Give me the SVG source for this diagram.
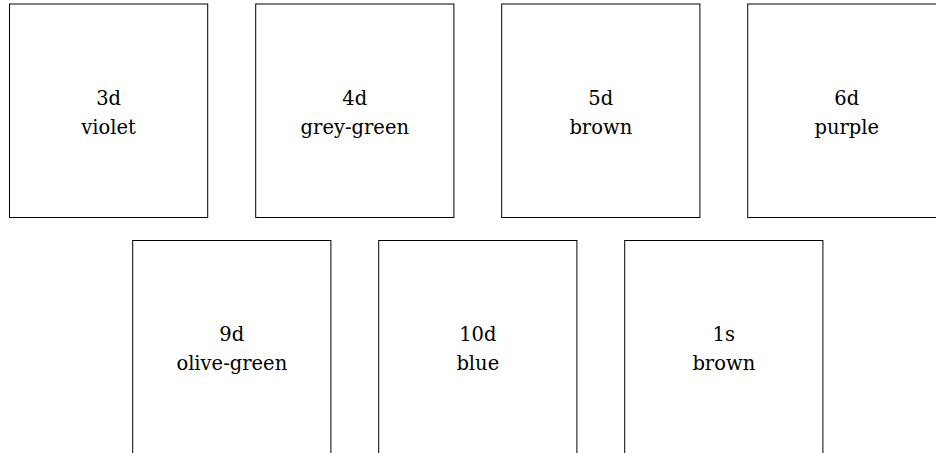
<svg xmlns="http://www.w3.org/2000/svg" width="936" height="453" viewBox="0 0 936 453">
<style>
.box{fill:#fff;stroke:#000;stroke-width:1}
text{font-size:19.5px;fill:#000;text-anchor:middle}
</style>
<rect width="936" height="453" fill="#fff"/>
<g id="n3d" font-family="DejaVu Serif"><rect class="box" x="9.5" y="4" width="198.2" height="213.5"/><text x="108.6" y="104.5">3d</text><text x="108.6" y="133.5">violet</text></g>
<g id="n4d" font-family="DejaVu Serif"><rect class="box" x="255.7" y="4" width="198.2" height="213.5"/><text x="354.8" y="104.5">4d</text><text x="354.8" y="133.5">grey-green</text></g>
<g id="n5d" font-family="DejaVu Serif"><rect class="box" x="501.7" y="4" width="198.2" height="213.5"/><text x="600.8" y="104.5">5d</text><text x="600.8" y="133.5">brown</text></g>
<g id="n6d" font-family="DejaVu Serif"><rect class="box" x="747.7" y="4" width="198.2" height="213.5"/><text x="846.8" y="104.5">6d</text><text x="846.8" y="133.5">purple</text></g>
<g id="n9d" font-family="DejaVu Serif"><rect class="box" x="132.7" y="240.5" width="198.2" height="213.5"/><text x="231.8" y="341">9d</text><text x="231.8" y="370">olive-green</text></g>
<g id="n10d" font-family="DejaVu Serif"><rect class="box" x="378.7" y="240.5" width="198.2" height="213.5"/><text x="477.8" y="341">10d</text><text x="477.8" y="370">blue</text></g>
<g id="n1s" font-family="DejaVu Serif"><rect class="box" x="624.7" y="240.5" width="198.2" height="213.5"/><text x="723.8" y="341">1s</text><text x="723.8" y="370">brown</text></g>
<g id="connectors"></g>
</svg>
